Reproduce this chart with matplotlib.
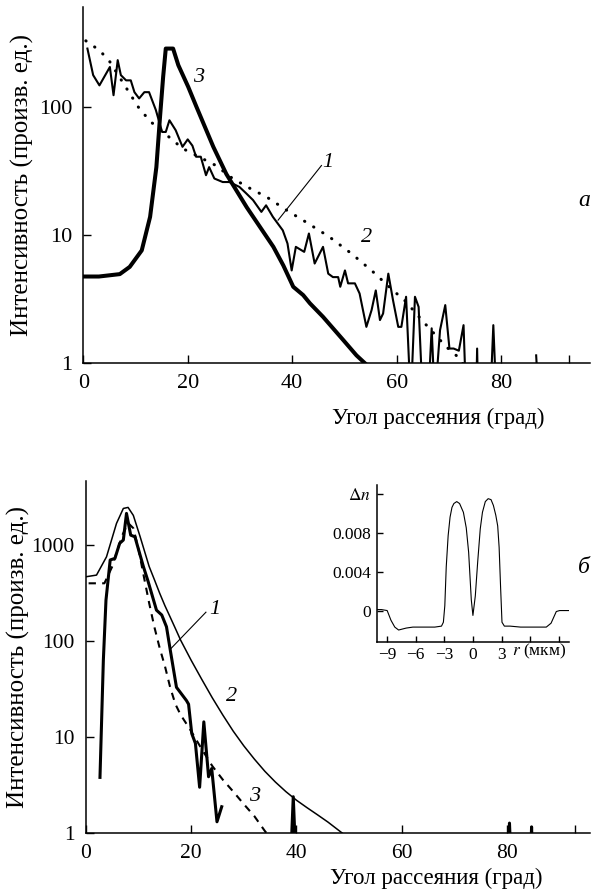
import numpy as np
import matplotlib
matplotlib.use("Agg")
import matplotlib.pyplot as plt

plt.rcParams['font.family'] = ['Liberation Serif', 'DejaVu Serif']
plt.rcParams['mathtext.fontset'] = 'stix'

nan = np.nan

# ---- panel a ----
a1_x = [0.8, 1.9, 3.1, 5.1, 5.8, 6.6, 7.2, 8.2, 9.1, 9.8, 10.7, 11.7, 12.6, 13.9, 15.1, 15.8,
        16.5, 17.7, 19.0, 20.0, 20.9, 21.6, 22.5, 23.5, 24.1, 25.1, 26.7, 28.0, 29.9, 31.2,
        32.5, 34.1, 35.0, 36.3, 38.2, 39.1, 39.9, 40.7, 42.3, 43.2, 44.3, 45.9, 46.9, 47.8,
        48.8, 49.2, 50.1, 50.7, 52.0, 52.9, 54.2, 55.2, 56.0, 56.8, 57.4, 58.4, 59.3, 60.3,
        60.9, 61.8, 62.7, 63.5, 64.2, 65.0, 66.0, 66.7, 67.3, 68.3, 69.3, 70.1, 70.9, 71.9,
        72.8, 73.3, 74.5, 75.2, 75.4, 75.6, 76.5, 77.9, 78.5, 79.1, 80.0, 86.7, 87.2]
a1_y = [287, 178, 148, 206, 124, 233, 178, 162, 162, 131, 117, 131, 131, 95, 64, 64,
        79, 66, 49, 56, 50, 41, 41, 29.4, 34, 27.7, 26, 26, 23.8, 21.2,
        18.8, 15.2, 17.1, 13.9, 10.9, 8.6, 5.3, 8.1, 7.4, 10.3, 6.0, 8.1, 5.0, 4.7,
        4.7, 3.95, 5.3, 4.2, 4.2, 3.5, 1.92, 2.6, 3.7, 2.17, 2.44, 5.0, 3.1, 1.92,
        1.92, 3.3, 0.5, 3.3, 2.75, 0.5, 0.5, 1.87, 0.5, 1.81, 2.84, 1.3, 1.3, 1.25,
        1.98, 0.5, nan, 0.5, 1.3, 0.5, nan, 0.5, 1.98, 0.5, nan, 1.15, 0.5]

a2_x = [0.5, 1.0, 3.1, 5.1, 8.9, 10.7, 12.9, 17.2, 19.0, 21.6, 25.4, 28.6, 32.5, 35.0,
        38.9, 42.7, 47.1, 51.3, 55.4, 59.3, 61.5, 65.4, 69.5, 71.7, 73.0]
a2_y = [330, 318, 279, 226, 128, 98, 77, 55, 47.6, 42, 35, 27.7, 22.5, 20,
        15.7, 12.6, 9.7, 7.2, 5.2, 3.7, 3.1, 2.04, 1.34, 1.12, 0.95]

a3_x = [0.0, 3.0, 7.0, 8.9, 11.2, 12.8, 14.0, 14.7, 15.3, 15.8, 17.2, 18.2, 20.1, 21.7,
        24.9, 27.4, 31.3, 36.4, 38.3, 40.2, 42.1, 43.4, 45.9, 49.8, 52.3, 53.9]
a3_y = [4.75, 4.75, 4.96, 5.65, 7.6, 13.9, 34, 84, 173, 287, 287, 213, 144, 100,
        49, 30, 16.5, 8.1, 5.8, 3.95, 3.4, 2.93, 2.3, 1.51, 1.15, 1.0]

# ---- panel b ----
b1_x = [2.66, 3.3, 3.8, 4.6, 5.5, 6.4, 7.1, 7.7, 8.5, 9.3, 10.9, 11.8, 13.4, 14.4, 15.3,
        16.0, 17.2, 19.1, 19.5, 20.1, 20.8, 21.6, 22.4, 23.3, 23.9, 24.9, 25.8, nan,
        38.9, 39.4, 39.9, nan, 80.3, 80.5, 80.8, nan, 84.5, 84.7, 84.9]
b1_y = [3.8, 63, 267, 700, 727, 1043, 1130, 2140, 1270, 1220, 600, 420, 210, 187, 141,
        82, 33, 24, 22, 10.9, 8.6, 3.0, 14.4, 3.86, 4.7, 1.31, 1.88, nan,
        0.5, 2.39, 0.5, nan, 0.5, 1.27, 0.5, nan, 0.5, 1.16, 0.5]

b2_x = [0.0, 2.0, 3.9, 5.8, 7.1, 8.0, 9.0, 10.3, 12.0, 13.0, 14.0, 15.0, 16.0, 17.0, 18.0,
        20.0, 22.0, 24.0, 26.0, 28.0, 30.0, 32.0, 34.0, 36.0, 38.0, 40.0, 42.0, 44.0,
        46.0, 48.7]
b2_y = [468, 487, 755, 1683, 2410, 2470, 2040, 1220, 600, 437, 316, 234, 178, 135, 102,
        63, 40, 25.7, 17, 11.5, 8.1, 5.9, 4.4, 3.4, 2.7, 2.2, 1.84, 1.55,
        1.30, 1.0]

b3_x = [0.5, 3.5, 5.0, 6.0, 7.0, 8.0, 9.0, 10.0, 11.0, 12.0, 13.0, 14.0, 15.0, 16.0,
        17.0, 18.0, 19.0, 20.0, 22.0, 24.0, 26.0, 28.0, 30.0, 32.0, 34.0, 35.0]
b3_y = [400, 400, 600, 900, 1300, 1700, 1500, 900, 470, 250, 140, 85, 55, 33,
        22, 17, 14, 11.5, 7.5, 5.0, 3.6, 2.7, 2.0, 1.5, 1.05, 0.9]

# inset: refractive index profile
r_um = [-10.1, -9.6, -9.0, -8.6, -8.2, -7.8, -7.0, -6.3, -5.0, -4.0, -3.3, -3.1, -2.95,
        -2.8, -2.6, -2.4, -2.2, -2.0, -1.7, -1.4, -1.0, -0.7, -0.45, -0.17, 0.0, 0.25,
        0.5, 0.77, 1.0, 1.3, 1.6, 1.9, 2.15, 2.4, 2.6, 2.75, 2.9, 3.05, 3.3, 3.9, 5.0,
        6.5, 7.7, 8.2, 8.75, 9.1, 10.1]
dn = [0.0001, 0.0001, 0.0000, -0.0010, -0.0017, -0.0020, -0.0018, -0.0017, -0.0017,
      -0.0017, -0.0016, -0.0012, 0.0005, 0.0045, 0.0077, 0.0096, 0.0106, 0.0110, 0.0112,
      0.0110, 0.0101, 0.0085, 0.0060, 0.0011, -0.0005, 0.0015, 0.0050, 0.0084, 0.0101,
      0.0112, 0.0115, 0.0114, 0.0108, 0.0098, 0.0087, 0.0065, 0.0025, -0.0012, -0.0016,
      -0.0016, -0.0017, -0.0017, -0.0017, -0.0013, -0.0001, 0.0000, 0.0000]

fig = plt.figure(figsize=(6.12, 8.90), dpi=100)
ax1 = fig.add_axes([0.136, 0.592, 0.828, 0.400])
ax2 = fig.add_axes([0.1405, 0.064, 0.8235, 0.3956])
axin = fig.add_axes([0.6155, 0.279, 0.3145, 0.176])

def style(ax, size):
    for s in ['top', 'right']:
        ax.spines[s].set_visible(False)
    for s in ['left', 'bottom']:
        ax.spines[s].set_linewidth(1.1)
    ax.tick_params(direction='in', length=6, width=1.0, labelsize=size, pad=8)
    ax.minorticks_off()

# panel a
ax1.plot(a1_x, a1_y, color='k', lw=1.5)
ax1.plot(a2_x, a2_y, color='k', lw=2.2, linestyle=(0, (0.1, 3.4)), dash_capstyle='round')
ax1.plot(a3_x, a3_y, color='k', lw=2.9)
ax1.set_yscale('log')
ax1.set_xlim(0, 97)
ax1.set_ylim(1, 605)
ax1.set_xticks([0, 20, 40, 60, 80, 93])
ax1.set_xticklabels(['0', '20', '40', '60', '80', ''])
ax1.set_yticks([1, 10, 100])
ax1.set_yticklabels(['1', '10', '100'])
style(ax1, 16)
ax1.set_xlabel('Угол рассеяния (град)', fontsize=16.5)
ax1.xaxis.set_label_coords(0.70, -0.125)
ax1.set_ylabel('Интенсивность (произв. ед.)', fontsize=18)
ax1.yaxis.set_label_coords(-0.097, 0.5)
ax1.text(22, 171, '3', style='italic', fontsize=16, ha='center', va='center')
ax1.text(46.8, 37, '1', style='italic', fontsize=16, ha='center', va='center')
ax1.plot([45.6, 37.3], [35, 13.1], color='k', lw=0.8)
ax1.text(54.2, 9.6, '2', style='italic', fontsize=16, ha='center', va='center')
ax1.text(1.0, 0.458, 'а', transform=ax1.transAxes, style='italic', fontsize=17,
         ha='right', va='center')

# panel b
ax2.plot(b1_x, b1_y, color='k', lw=2.2)
ax2.plot(b2_x, b2_y, color='k', lw=1.1)
ax2.plot(b3_x, b3_y, color='k', lw=1.5, linestyle=(0, (3.5, 3)))
ax2.set_yscale('log')
ax2.set_xlim(0, 95.8)
ax2.set_ylim(1, 4660)
ax2.set_xticks([0, 20, 40, 60, 80, 93])
ax2.set_xticklabels(['0', '20', '40', '60', '80', ''])
ax2.set_yticks([1, 10, 100, 1000])
ax2.set_yticklabels(['1', '10', '100', '1000'])
style(ax2, 15.5)
ax2.set_xlabel('Угол рассеяния (град)', fontsize=16.5)
ax2.xaxis.set_label_coords(0.695, -0.1)
ax2.set_ylabel('Интенсивность (произв. ед.)', fontsize=18)
ax2.yaxis.set_label_coords(-0.112, 0.5)
ax2.text(24.5, 215, '1', style='italic', fontsize=16, ha='center', va='center')
ax2.plot([22.8, 16.0], [200, 82], color='k', lw=0.8)
ax2.text(27.7, 26.7, '2', style='italic', fontsize=16, ha='center', va='center')
ax2.text(32.1, 2.39, '3', style='italic', fontsize=16, ha='center', va='center')
ax2.text(1.0, 0.753, 'б', transform=ax2.transAxes, style='italic', fontsize=17,
         ha='right', va='center')

# inset
axin.plot(r_um, dn, color='k', lw=0.8)
axin.set_xlim(-10.1, 10.1)
axin.set_ylim(-0.0032, 0.0129)
axin.set_xticks([-9, -6, -3, 0, 3, 6, 9])
axin.set_xticklabels(['−9', '−6', '−3', '0', '3', '', ''])
axin.set_yticks([0, 0.004, 0.008, 0.012])
axin.set_yticklabels(['0', '0.004', '0.008', r'$\Delta n$'])
style(axin, 12.5)
axin.tick_params(length=4, pad=4)
axin.text(7.0, -0.0032, '$r$ (мкм)', fontsize=12.5, ha='center', va='top',
          transform=axin.transData)

fig.savefig('out.png', dpi=100)
